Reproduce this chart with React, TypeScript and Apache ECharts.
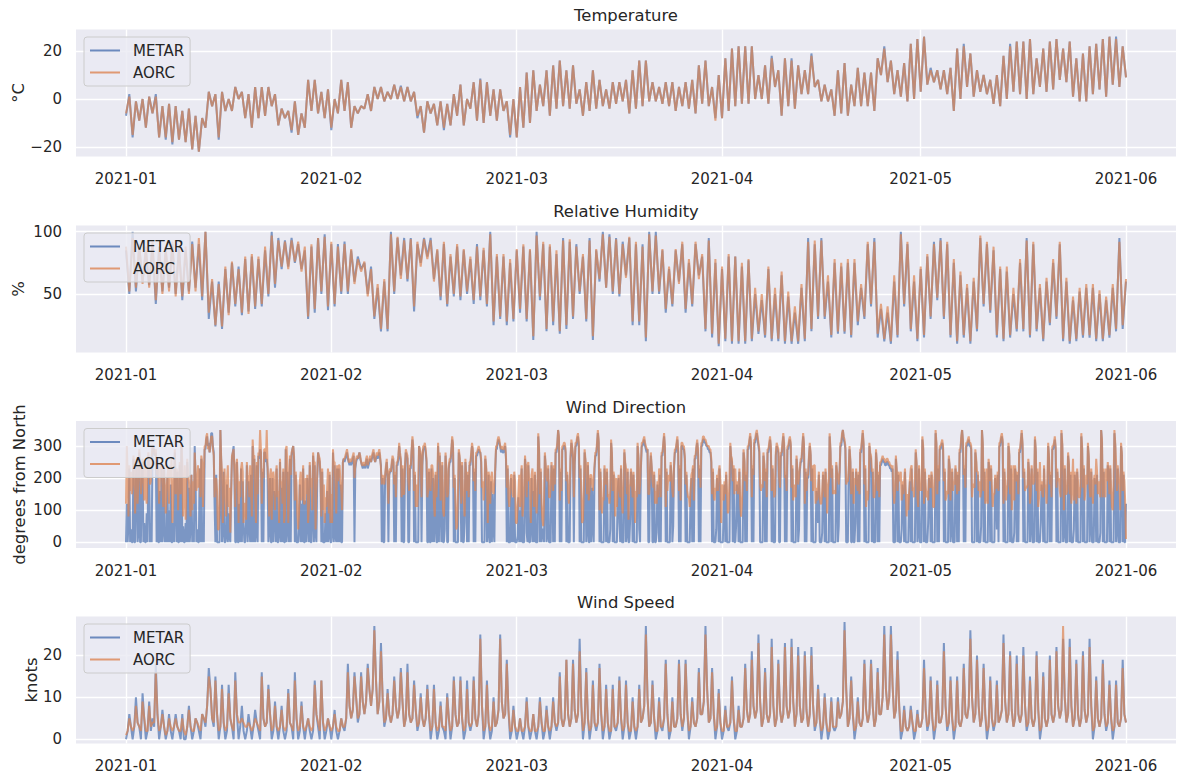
import React, { useEffect, useRef } from "react";
import * as echarts from "echarts";

const FONT = "'DejaVu Sans', 'Liberation Sans', sans-serif";
const TEXT = "#262626";
const BLUE = "#4C72B0";
const ORANGE = "#DD8452";
const PLOT_BG = "#EAEAF2";

const START = Date.UTC(2021, 0, 1);
const HOUR = 3600000;
const DAY = 24 * HOUR;
const SPAN_DAYS = 151;
const PAD_DAYS = 7.55;

const MONTH_LABELS = ["2021-01", "2021-02", "2021-03", "2021-04", "2021-05", "2021-06"];
const MONTH_TICKS = MONTH_LABELS.map((m) => Date.UTC(+m.slice(0, 4), +m.slice(5) - 1, 1));

const TITLES = ["Temperature", "Relative Humidity", "Wind Direction", "Wind Speed"];
const UNITS = ["°C", "%", "degrees from North", "knots"];
const SERIES_NAMES = ["METAR", "AORC"];
const Y_MIN = [-24, 3, -18, -1];
const Y_MAX = [29, 105, 378, 29.3];
const Y_STEP = [20, 50, 100, 10];

// Temperature (°C), 12-hourly samples from 2021-01-01 00:00
const TEMP_METAR = [
  -7, 2, -16, -1, -9, 0, -12, 1, -6, 2, -16, -3, -17, -2, -19, -3, -17, -5, -18, -4,
  -21, -7, -22, -8, -12, 3, -3, 2, -17, 3, -5, 0, -5, 5, 0, 3, -8, 2, -12, 5,
  -8, 5, -7, 5, -3, 2, -11, -4, -8, -5, -14, -1, -15, -6, -12, 8, -5, 8, -6, 3,
  -8, 4, -13, 0, -6, 8, -5, 7, -12, -3, -6, -3, -4, 2, -5, 5, 0, 5, -1, 3,
  0, 6, 0, 5.5, -1, 5, -1, 3, -8, -3, -14, -1, -6, -2, -11, -1, -13, -2, -11, 2,
  -7, 6, -11, 0, -4, 7, -9, 8.5, -10, 7, -7, 4, -9, 4, -5, -1, -16, 0, -16, 5,
  -12, 11, -10, 12, -5, 6, -3, 12, -7, 14, -4, 16, -3, 12, -4, 14, -2, 4, -7, 7,
  -5, 12, -4, 8, -3, 4, -4, 7, -2, 7, -1, 8, -6, 12, -4, 16, -3, 16, -1, 7,
  -1, 5, -2, 7, -3, 7, -5, 5, -3, 7, -4, 8, -6, 14, -2, 16, -3, 5, -8, 10,
  -8, 17, -5, 21, -3, 22, -2, 22, -2, 22, 0, 10, 0, 14, -2, 18, 5, 12, -7, 17,
  -3, 17, -4, 14, 2, 12, 2, 19, 5, 8, -1, 6, -1, 4, -7, 12, -6, 15, -7, 6,
  -3, 13, -3, 11, -3, 11, -5, 17, 10, 22, 7, 16, 2, 12, 1, 15, -1, 23, 0, 25,
  3, 26, 6, 13, 7, 12, 4, 12, 2, 13, -5, 21, 0, 23, 5, 19, 1, 12, 3, 10,
  2, 8, -2, 10, -3, 18, 0, 23, 3, 24, 2, 24, 0, 25, 2, 17, 5, 21, 3, 24,
  4, 25, 8, 21, 7, 24, 1, 17, -1, 19, -1, 22, 2, 23, 4, 25, 1, 26, 6, 26,
  5, 22, 9,
];
const TEMP_AORC = [
  -6, 1, -15, -1, -9, 0, -12, 1, -6, 1, -16, -3, -16, -2, -18, -3, -17, -5, -18, -4,
  -21, -7, -22, -8, -12, 3, -3, 2, -16, 3, -5, 0, -5, 5, 0, 3, -8, 2, -12, 5,
  -8, 5, -7, 5, -3, 2, -11, -4, -8, -5, -13, -1, -15, -6, -12, 8, -5, 8, -6, 3,
  -8, 4, -12, 0, -6, 8, -5, 7, -12, -3, -6, -3, -4, 2, -5, 5, 0, 5, -1, 3,
  0, 6, 0, 5, -1, 5, -1, 3, -7, -3, -14, -1, -6, -2, -11, -1, -12, -2, -11, 2,
  -7, 6, -11, 0, -4, 7, -9, 8, -10, 7, -7, 4, -9, 4, -5, -1, -15, 0, -16, 5,
  -12, 11, -10, 12, -5, 6, -3, 12, -7, 14, -4, 16, -3, 12, -4, 14, -2, 4, -7, 7,
  -5, 12, -4, 8, -3, 4, -4, 7, -2, 7, -1, 8, -6, 12, -4, 16, -3, 16, -1, 7,
  -1, 5, -2, 7, -3, 7, -5, 5, -3, 7, -4, 8, -6, 14, -2, 16, -3, 5, -9, 10,
  -8, 17, -5, 21, -3, 22, -2, 22, -2, 22, 0, 10, 0, 14, -2, 17, 5, 12, -7, 17,
  -3, 16, -4, 14, 2, 12, 2, 18, 5, 8, -1, 6, -1, 4, -7, 12, -6, 15, -7, 6,
  -3, 13, -3, 11, -3, 11, -5, 17, 10, 21, 7, 16, 2, 12, 1, 15, -1, 23, 0, 25,
  3, 26, 6, 12, 7, 12, 4, 12, 2, 13, -5, 21, 0, 22, 5, 19, 1, 12, 3, 10,
  2, 8, -2, 10, -3, 18, 0, 22, 3, 24, 2, 24, 0, 25, 2, 17, 5, 21, 3, 24,
  4, 25, 8, 21, 7, 24, 1, 17, -1, 19, -1, 22, 2, 23, 4, 25, 1, 26, 6, 25,
  5, 22, 9,
];

// Relative humidity (%), 12-hourly samples
const RH_METAR = [
  85, 50, 100, 52, 88, 60, 85, 57, 90, 42, 88, 52, 85, 55, 90, 50, 88, 45, 85, 52,
  92, 55, 90, 45, 100, 30, 60, 24, 60, 22, 70, 35, 75, 40, 72, 33, 78, 36, 80, 38,
  78, 40, 85, 48, 100, 55, 95, 70, 93, 72, 95, 75, 90, 70, 85, 30, 88, 35, 95, 50,
  98, 37, 90, 40, 90, 50, 92, 50, 85, 60, 80, 70, 75, 50, 72, 30, 55, 20, 60, 20,
  100, 50, 95, 65, 95, 60, 95, 36, 90, 75, 95, 80, 95, 62, 85, 45, 90, 40, 80, 48,
  88, 45, 85, 50, 78, 42, 90, 45, 85, 40, 100, 25, 80, 30, 80, 25, 75, 28, 85, 35,
  88, 28, 85, 13, 100, 45, 90, 20, 88, 25, 82, 18, 95, 22, 92, 30, 90, 50, 80, 28,
  95, 13, 85, 60, 100, 55, 98, 50, 95, 48, 92, 65, 95, 25, 90, 25, 90, 12, 100, 50,
  100, 50, 85, 35, 70, 40, 85, 60, 90, 35, 75, 40, 90, 65, 80, 20, 95, 15, 75, 8,
  70, 12, 80, 10, 80, 10, 72, 10, 77, 12, 50, 18, 45, 15, 70, 12, 50, 12, 65, 10,
  48, 10, 35, 10, 55, 12, 95, 20, 90, 30, 95, 30, 60, 15, 75, 18, 72, 18, 75, 15,
  75, 25, 55, 30, 90, 40, 95, 15, 38, 12, 35, 10, 60, 15, 100, 40, 90, 20, 60, 12,
  70, 15, 80, 30, 92, 45, 95, 30, 90, 15, 75, 10, 65, 15, 55, 10, 60, 20, 95, 40,
  90, 35, 85, 15, 70, 12, 68, 15, 50, 20, 75, 20, 95, 15, 90, 20, 55, 12, 60, 25,
  75, 30, 90, 12, 60, 10, 45, 12, 52, 15, 55, 15, 55, 12, 50, 12, 45, 15, 55, 20,
  95, 22, 60,
];
const RH_AORC = [
  88, 52, 95, 55, 90, 58, 88, 55, 92, 45, 85, 50, 88, 52, 92, 48, 85, 48, 88, 50,
  90, 52, 95, 48, 100, 35, 62, 25, 58, 24, 72, 33, 76, 42, 70, 35, 80, 34, 82, 40,
  80, 42, 88, 50, 97, 58, 93, 72, 92, 70, 93, 76, 92, 68, 88, 32, 90, 38, 95, 52,
  96, 40, 92, 42, 88, 52, 90, 52, 86, 58, 78, 68, 76, 48, 70, 32, 58, 22, 62, 22,
  98, 52, 96, 62, 93, 62, 94, 40, 92, 72, 94, 78, 93, 60, 86, 48, 92, 42, 82, 50,
  90, 48, 86, 52, 80, 45, 88, 48, 87, 42, 98, 28, 82, 32, 82, 28, 78, 30, 86, 38,
  90, 30, 86, 16, 97, 48, 92, 22, 90, 28, 85, 20, 93, 25, 94, 32, 88, 52, 82, 30,
  93, 16, 86, 62, 98, 55, 96, 52, 94, 50, 90, 63, 96, 28, 92, 28, 88, 15, 98, 52,
  97, 52, 86, 38, 72, 42, 86, 58, 92, 38, 78, 42, 92, 62, 82, 22, 93, 18, 78, 10,
  72, 14, 82, 12, 80, 12, 75, 12, 78, 14, 55, 20, 50, 17, 72, 14, 55, 14, 68, 12,
  52, 12, 40, 12, 58, 14, 92, 22, 93, 32, 93, 32, 65, 17, 78, 20, 75, 20, 78, 17,
  78, 28, 58, 32, 92, 42, 92, 18, 42, 14, 40, 12, 65, 17, 98, 42, 92, 22, 65, 14,
  72, 17, 82, 32, 90, 47, 93, 32, 92, 17, 78, 12, 68, 17, 58, 12, 63, 22, 97, 42,
  92, 37, 88, 17, 72, 14, 72, 17, 55, 22, 78, 22, 93, 17, 92, 22, 58, 14, 63, 27,
  78, 32, 92, 14, 63, 12, 48, 14, 55, 17, 58, 17, 58, 14, 53, 14, 48, 17, 58, 22,
  92, 25, 62,
];

// Wind direction (degrees from North), 3-hourly samples (8 per day, one row per two days)
const WDIR_METAR = [
  0, 120, 0, 60, 230, 0, 40, 0, 0, 260, 0, 0, 200, 250, 0, 30,
  280, 0, 0, 200, 250, 0, 60, 0, 0, 90, 0, 270, 230, 0, 60, 0,
  290, 300, 280, 270, 280, 0, 250, 0, 0, 160, 0, 250, 0, 40, 230, 0,
  30, 0, 200, 0, 100, 0, 180, 0, 0, 60, 0, 280, 130, 0, 220, 0,
  0, 240, 0, 320, 0, 50, 0, 0, 60, 0, 250, 0, 170, 0, 50, 210,
  0, 40, 0, 300, 200, 0, 40, 0, 0, 230, 0, 260, 0, 30, 0, 290,
  290, 320, 330, 300, 310, 280, 300, 340, 340, 300, 280, 120, 0, 210, 0, 0,
  0, 0, 350, 250, 0, 40, 220, 0, 0, 20, 180, 0, 90, 20, 0, 160,
  260, 280, 300, 210, 0, 0, 250, 0, 0, 120, 0, 230, 0, 190, 60, 0,
  0, 60, 240, 0, 190, 50, 0, 210, 0, 300, 0, 260, 0, 30, 240, 0,
  270, 260, 290, 280, 0, 220, 0, 280, 280, 250, 260, 230, 0, 40, 200, 0,
  0, 200, 0, 160, 90, 0, 230, 0, 0, 30, 250, 0, 170, 0, 220, 0,
  0, 290, 0, 220, 40, 0, 260, 0, 270, 290, 300, 260, 0, 210, 0, 0,
  0, 50, 180, 0, 120, 0, 230, 0, 0, 130, 0, 200, 60, 0, 240, 0,
  0, 80, 270, 0, 240, 30, 0, 200, 280, 260, 250, 200, 0, 220, 0, 0,
  0, 90, 0, 160, 0, 20, 210, 0, 0, 30, 280, 0, 240, 20, 0, 230,
  0, 230, 0, 180, 0, 0, 250, 260, 250, 260, 270, 280, 260, 250, 240, 250,
  240, 250, 260, 270, 0, 230, 250, 260, 260, 270, 280, 260, 250, 240, 230, 240,
  240, 230, 250, 260, 230, 240, 250, 260, 250, 260, 270, 280, 260, 250, 260, 270,
  260, 270, 280, 260, 240, 0, 200, 0, 0, 200, 230, 250, 200, 0, 210, 220,
  220, 240, 260, 250, 0, 210, 0, 240, 240, 260, 300, 270, 250, 0, 230, 0,
  0, 230, 280, 270, 260, 0, 0, 230, 230, 280, 320, 290, 0, 210, 0, 0,
  0, 0, 300, 280, 270, 0, 240, 290, 290, 300, 280, 250, 0, 0, 220, 0,
  0, 230, 0, 200, 0, 60, 210, 0, 0, 300, 0, 270, 120, 0, 240, 0,
  0, 40, 270, 220, 0, 0, 230, 250, 250, 280, 320, 300, 0, 200, 0, 0,
  0, 0, 280, 260, 220, 0, 240, 0, 0, 60, 250, 200, 0, 210, 0, 240,
  240, 270, 300, 280, 0, 220, 0, 270, 270, 280, 290, 280, 280, 250, 0, 0,
  0, 0, 260, 230, 0, 30, 210, 0, 0, 190, 0, 150, 40, 0, 220, 290,
  290, 310, 320, 310, 300, 280, 290, 280, 280, 290, 300, 260, 0, 230, 0, 0,
  0, 200, 0, 140, 0, 210, 0, 0, 0, 20, 140, 0, 100, 0, 230, 0,
  0, 0, 260, 220, 30, 0, 240, 0, 0, 50, 200, 0, 160, 0, 210, 0,
  0, 0, 330, 280, 0, 220, 0, 40, 40, 0, 270, 230, 0, 20, 230, 0,
  0, 0, 240, 200, 0, 230, 0, 280, 280, 300, 350, 320, 0, 220, 0, 290,
  290, 300, 300, 280, 0, 210, 0, 0, 0, 260, 310, 290, 260, 0, 240, 300,
  300, 320, 330, 300, 0, 230, 0, 0, 0, 0, 280, 250, 0, 40, 240, 0,
  0, 200, 0, 170, 50, 0, 230, 270, 270, 300, 340, 310, 0, 220, 0, 0,
  0, 0, 230, 180, 0, 220, 0, 0, 0, 40, 310, 270, 0, 210, 0, 0,
  0, 0, 160, 200, 60, 0, 230, 0, 0, 0, 280, 240, 0, 30, 220, 0,
  0, 70, 220, 180, 0, 210, 0, 0, 0, 0, 300, 260, 40, 0, 230, 300,
  300, 310, 320, 300, 290, 280, 290, 0, 0, 220, 270, 230, 0, 0, 210, 0,
  0, 30, 180, 130, 0, 210, 0, 270, 270, 300, 330, 290, 0, 220, 0, 0,
  0, 0, 240, 200, 0, 50, 230, 280, 280, 300, 320, 280, 0, 230, 0, 300,
  300, 290, 290, 260, 0, 210, 0, 0, 0, 0, 150, 200, 0, 230, 0, 260,
  260, 290, 310, 280, 0, 230, 0, 300, 300, 320, 320, 310, 310, 300, 300, 290,
  290, 280, 280, 250, 0, 220, 0, 0, 0, 40, 200, 150, 0, 230, 0, 0,
  0, 0, 120, 180, 0, 210, 0, 0, 0, 0, 300, 260, 250, 0, 230, 0,
  0, 50, 180, 140, 0, 220, 0, 0, 0, 0, 280, 250, 0, 210, 0, 290,
  290, 310, 330, 300, 0, 230, 0, 310, 310, 330, 340, 320, 300, 280, 0, 0,
  0, 0, 270, 240, 0, 220, 0, 280, 280, 300, 320, 290, 0, 230, 0, 0,
  0, 270, 300, 290, 280, 0, 0, 270, 270, 300, 330, 300, 0, 210, 0, 290,
  290, 310, 320, 300, 0, 230, 0, 0, 0, 0, 260, 220, 0, 40, 220, 250,
  250, 290, 330, 300, 0, 220, 0, 200, 200, 260, 300, 270, 0, 230, 0, 0,
  0, 0, 160, 120, 60, 210, 0, 0, 0, 30, 210, 170, 0, 220, 0, 0,
  0, 0, 330, 280, 0, 230, 0, 0, 0, 0, 240, 210, 0, 50, 210, 300,
  300, 330, 350, 320, 310, 290, 0, 0, 0, 210, 290, 250, 0, 0, 220, 0,
  0, 60, 220, 170, 0, 210, 0, 280, 280, 310, 340, 300, 0, 230, 0, 0,
  0, 0, 300, 270, 260, 0, 220, 0, 0, 0, 280, 240, 0, 210, 0, 240,
  240, 250, 260, 250, 250, 240, 240, 250, 250, 240, 240, 230, 230, 220, 230, 0,
  0, 0, 260, 220, 0, 210, 0, 0, 0, 40, 180, 140, 0, 220, 0, 0,
  0, 0, 140, 190, 0, 230, 0, 0, 0, 0, 280, 240, 0, 30, 230, 0,
  0, 0, 320, 290, 0, 220, 0, 0, 0, 60, 200, 170, 0, 210, 0, 0,
  0, 0, 340, 300, 0, 230, 0, 290, 290, 300, 310, 290, 0, 220, 0, 0,
  0, 0, 260, 230, 0, 40, 220, 0, 0, 0, 230, 190, 0, 210, 0, 280,
  280, 320, 350, 310, 0, 230, 0, 300, 300, 310, 320, 300, 300, 290, 0, 0,
  0, 0, 280, 250, 0, 210, 0, 0, 0, 50, 350, 300, 0, 220, 0, 0,
  0, 0, 250, 220, 0, 230, 0, 0, 0, 0, 200, 160, 40, 210, 0, 300,
  300, 320, 330, 310, 0, 220, 0, 0, 0, 0, 300, 270, 0, 230, 0, 0,
  0, 30, 230, 200, 0, 210, 0, 280, 280, 310, 340, 300, 0, 220, 0, 0,
  0, 0, 250, 210, 0, 50, 230, 0, 0, 0, 320, 280, 0, 220, 0, 0,
  0, 60, 180, 140, 0, 230, 0, 0, 0, 0, 300, 260, 0, 210, 0, 290,
  290, 300, 320, 290, 0, 220, 0, 0, 0, 0, 340, 300, 0, 30, 230, 0,
  0, 0, 270, 240, 0, 210, 0, 0, 0, 40, 210, 180, 0, 220, 0, 0,
  0, 0, 330, 290, 0, 230, 0, 0, 0, 0, 300, 260, 0, 50, 220, 0,
  0, 0, 200, 170, 0, 210, 0, 0, 0, 30, 350, 310, 0, 220, 0, 0,
  0, 0, 240, 200, 0, 230, 0, 0, 0, 0, 340, 300, 0, 40, 230, 0,
  0, 0, 300, 270, 0, 210, 0, 0, 120,
];
const WDIR_AORC = [
  120, 300, 210, 80, 240, 160, 220, 150, 180, 270, 230, 90, 220, 260, 120, 200,
  290, 230, 150, 210, 260, 190, 130, 250, 150, 120, 240, 280, 240, 180, 190, 270,
  300, 290, 280, 270, 290, 210, 260, 220, 120, 200, 250, 240, 170, 110, 240, 170,
  90, 160, 210, 230, 120, 240, 200, 260, 60, 120, 210, 290, 150, 230, 220, 100,
  200, 250, 150, 310, 250, 80, 160, 240, 70, 180, 260, 220, 190, 150, 80, 210,
  100, 190, 120, 280, 220, 160, 180, 240, 170, 230, 140, 270, 250, 110, 200, 300,
  300, 330, 340, 290, 300, 280, 310, 330, 330, 290, 270, 140, 190, 200, 160, 40,
  40, 120, 350, 260, 220, 60, 170, 230, 150, 80, 190, 240, 110, 170, 30, 150,
  270, 280, 290, 220, 110, 240, 260, 200, 60, 190, 140, 230, 250, 220, 60, 120,
  120, 70, 250, 210, 200, 140, 240, 180, 80, 320, 270, 270, 140, 60, 250, 150,
  280, 270, 350, 290, 120, 230, 200, 290, 290, 260, 350, 240, 180, 80, 210, 230,
  70, 210, 220, 170, 100, 210, 240, 140, 160, 60, 260, 180, 190, 120, 230, 60,
  90, 290, 300, 230, 60, 150, 270, 210, 280, 290, 300, 270, 130, 220, 180, 90,
  40, 90, 190, 220, 130, 170, 240, 120, 120, 200, 150, 210, 60, 110, 250, 170,
  200, 100, 280, 250, 250, 40, 160, 210, 280, 270, 260, 210, 80, 230, 100, 180,
  60, 140, 110, 170, 230, 90, 220, 60, 150, 60, 290, 250, 250, 180, 90, 240,
  190, 240, 240, 190, 160, 100, 250, 260, 260, 270, 280, 290, 270, 250, 250, 260,
  250, 260, 270, 280, 200, 240, 260, 270, 260, 270, 280, 270, 250, 240, 240, 250,
  240, 240, 260, 270, 240, 250, 260, 270, 250, 270, 280, 290, 260, 250, 270, 280,
  270, 280, 290, 270, 230, 180, 210, 200, 180, 210, 240, 260, 200, 120, 220, 230,
  220, 250, 270, 260, 180, 220, 140, 250, 250, 270, 310, 280, 260, 140, 240, 150,
  150, 240, 290, 280, 270, 190, 160, 240, 240, 290, 330, 300, 160, 220, 110, 180,
  110, 180, 300, 290, 280, 140, 250, 300, 300, 310, 290, 260, 140, 160, 230, 190,
  160, 240, 240, 210, 120, 80, 220, 140, 200, 310, 250, 280, 130, 180, 250, 100,
  80, 160, 280, 230, 140, 150, 240, 260, 260, 290, 330, 310, 170, 210, 120, 40,
  50, 150, 290, 270, 230, 120, 250, 160, 140, 80, 260, 210, 160, 220, 140, 250,
  250, 280, 310, 290, 190, 230, 160, 280, 280, 290, 300, 290, 280, 260, 170, 190,
  130, 170, 270, 240, 200, 60, 220, 200, 120, 200, 220, 160, 150, 180, 230, 300,
  300, 320, 330, 320, 300, 290, 300, 290, 290, 300, 310, 270, 170, 240, 140, 110,
  160, 210, 210, 150, 140, 220, 190, 60, 60, 110, 150, 210, 110, 200, 240, 80,
  110, 180, 270, 230, 140, 240, 250, 190, 200, 60, 210, 230, 170, 110, 220, 140,
  90, 150, 340, 290, 150, 230, 120, 70, 50, 130, 280, 240, 210, 190, 240, 140,
  140, 170, 250, 210, 160, 240, 180, 290, 290, 310, 350, 330, 130, 230, 160, 300,
  300, 310, 310, 290, 190, 220, 150, 120, 180, 270, 320, 300, 270, 140, 250, 310,
  310, 330, 340, 310, 200, 240, 150, 60, 70, 160, 290, 260, 220, 150, 250, 130,
  160, 210, 210, 180, 160, 200, 240, 280, 280, 310, 350, 320, 100, 230, 170, 90,
  140, 130, 240, 190, 180, 230, 140, 150, 120, 160, 320, 280, 160, 220, 200, 80,
  200, 110, 170, 210, 170, 140, 240, 120, 90, 170, 290, 250, 230, 150, 230, 70,
  170, 180, 230, 190, 140, 220, 160, 60, 160, 140, 310, 270, 150, 180, 240, 310,
  310, 320, 330, 310, 300, 290, 290, 150, 150, 230, 280, 240, 190, 170, 220, 120,
  160, 120, 190, 140, 230, 220, 140, 280, 280, 310, 340, 300, 110, 230, 160, 200,
  210, 190, 250, 210, 160, 140, 240, 290, 290, 310, 330, 290, 160, 240, 130, 310,
  310, 300, 300, 270, 180, 220, 160, 140, 140, 110, 160, 210, 220, 240, 130, 270,
  270, 300, 320, 290, 200, 240, 170, 310, 310, 330, 330, 320, 320, 310, 300, 300,
  300, 290, 290, 260, 150, 230, 140, 130, 170, 160, 210, 160, 220, 240, 190, 60,
  180, 160, 130, 190, 150, 220, 160, 90, 100, 200, 310, 270, 260, 190, 240, 150,
  230, 160, 190, 150, 160, 230, 120, 80, 120, 190, 290, 260, 190, 220, 160, 300,
  300, 320, 340, 310, 140, 240, 210, 320, 320, 340, 350, 330, 310, 290, 180, 160,
  180, 170, 280, 250, 190, 230, 140, 290, 290, 310, 330, 300, 160, 240, 190, 140,
  150, 280, 310, 300, 290, 200, 170, 280, 280, 310, 340, 310, 200, 220, 160, 300,
  300, 320, 330, 310, 170, 240, 130, 180, 150, 140, 270, 230, 180, 200, 230, 260,
  260, 300, 340, 310, 120, 230, 160, 210, 210, 270, 310, 280, 190, 240, 160, 240,
  240, 120, 170, 130, 170, 220, 140, 120, 120, 160, 220, 180, 140, 230, 190, 90,
  170, 190, 340, 290, 200, 240, 150, 160, 160, 150, 250, 220, 200, 180, 220, 310,
  310, 340, 350, 330, 320, 300, 180, 190, 190, 220, 300, 260, 150, 160, 230, 120,
  200, 180, 230, 180, 160, 220, 150, 290, 290, 320, 350, 310, 180, 240, 110, 160,
  130, 160, 310, 280, 270, 220, 230, 140, 140, 170, 290, 250, 160, 220, 140, 250,
  250, 260, 270, 260, 260, 250, 250, 260, 260, 250, 250, 240, 240, 230, 240, 160,
  120, 160, 270, 230, 160, 220, 190, 200, 220, 130, 190, 150, 190, 230, 160, 80,
  150, 100, 150, 200, 230, 240, 160, 170, 140, 200, 290, 250, 140, 110, 240, 160,
  180, 160, 330, 300, 120, 230, 180, 140, 160, 130, 210, 180, 170, 220, 200, 110,
  110, 190, 350, 310, 150, 240, 190, 300, 300, 310, 320, 300, 190, 230, 130, 140,
  160, 150, 270, 240, 130, 200, 230, 160, 190, 180, 240, 200, 150, 220, 160, 290,
  290, 330, 350, 320, 210, 240, 170, 310, 310, 320, 330, 310, 310, 300, 140, 180,
  180, 170, 290, 260, 220, 220, 160, 190, 140, 160, 350, 310, 160, 230, 120, 140,
  230, 120, 260, 230, 190, 240, 170, 110, 150, 150, 210, 170, 170, 220, 160, 310,
  310, 330, 340, 320, 120, 230, 190, 130, 160, 180, 310, 280, 150, 240, 100, 160,
  240, 130, 240, 210, 190, 220, 150, 290, 290, 320, 350, 310, 200, 230, 160, 170,
  170, 180, 260, 220, 120, 150, 240, 190, 180, 190, 330, 290, 160, 230, 110, 140,
  250, 160, 190, 150, 140, 240, 170, 180, 120, 200, 310, 270, 180, 220, 140, 300,
  300, 310, 330, 300, 170, 230, 190, 200, 160, 140, 350, 310, 220, 100, 240, 150,
  150, 160, 280, 250, 150, 220, 120, 190, 260, 130, 220, 190, 120, 230, 190, 140,
  140, 170, 340, 300, 170, 240, 130, 160, 210, 180, 310, 270, 170, 140, 230, 180,
  120, 190, 210, 180, 260, 220, 150, 190, 160, 140, 350, 320, 140, 230, 180, 140,
  230, 190, 250, 210, 150, 240, 170, 110, 100, 180, 350, 310, 250, 160, 240, 200,
  180, 100, 310, 280, 160, 220, 190, 130, 10,
];

// Wind speed (knots), 6-hourly samples (4 per day)
const WSPD_METAR = [
  0, 2, 6, 3, 0, 3, 10, 4, 3, 0, 11, 5, 0, 2, 9, 2, 5, 3, 18, 6, 0, 3, 7, 3, 0, 2, 6, 2, 0, 3, 6, 3, 2, 0, 6, 0, 0, 3, 8, 3,
  0, 2, 5, 4, 2, 0, 6, 5, 3, 8, 17, 12, 5, 3, 15, 6, 0, 3, 13, 4, 0, 2, 13, 5, 3, 0, 16, 6, 0, 3, 8, 2, 0, 2, 6, 3, 0, 3, 7, 4,
  2, 0, 16, 5, 3, 4, 13, 6, 0, 2, 9, 3, 0, 3, 8, 2, 0, 2, 12, 4, 3, 0, 16, 5, 0, 2, 9, 3, 0, 3, 5, 2, 0, 2, 14, 6, 3, 0, 14, 4,
  0, 2, 5, 3, 0, 3, 7, 2, 0, 2, 5, 3, 2, 5, 18, 8, 5, 7, 16, 10, 4, 6, 16, 9, 6, 9, 18, 12, 8, 12, 27, 14, 6, 9, 23, 10, 3, 5, 12, 6,
  4, 6, 15, 8, 5, 7, 17, 9, 3, 5, 18, 6, 4, 5, 14, 7, 2, 4, 11, 5, 3, 5, 13, 6, 0, 3, 13, 4, 0, 2, 9, 3, 2, 0, 11, 5, 0, 3, 15, 6,
  3, 4, 15, 5, 0, 2, 14, 4, 2, 4, 15, 5, 3, 6, 25, 8, 0, 3, 14, 4, 0, 2, 10, 3, 4, 7, 25, 9, 5, 6, 19, 7, 0, 2, 8, 3, 0, 2, 5, 2,
  0, 3, 10, 3, 0, 2, 6, 2, 0, 3, 10, 4, 0, 2, 8, 3, 0, 3, 10, 4, 2, 4, 16, 5, 3, 5, 19, 6, 3, 5, 19, 7, 4, 6, 24, 8, 0, 4, 17, 5,
  0, 3, 14, 4, 2, 4, 18, 6, 0, 3, 13, 4, 0, 2, 13, 3, 2, 4, 15, 5, 0, 3, 14, 4, 0, 2, 10, 3, 0, 3, 13, 4, 5, 8, 27, 10, 3, 4, 14, 5,
  0, 2, 10, 3, 2, 5, 19, 6, 0, 2, 10, 3, 3, 5, 19, 6, 2, 5, 19, 7, 0, 3, 10, 4, 3, 5, 17, 6, 6, 9, 27, 12, 4, 5, 17, 6, 0, 3, 12, 4,
  0, 2, 8, 3, 2, 4, 15, 5, 0, 2, 8, 3, 3, 5, 18, 7, 4, 6, 21, 8, 5, 7, 25, 9, 3, 5, 17, 6, 4, 6, 24, 8, 3, 5, 19, 7, 4, 6, 23, 8,
  5, 7, 24, 9, 3, 6, 22, 8, 4, 5, 21, 7, 3, 6, 22, 8, 2, 4, 13, 5, 0, 3, 11, 4, 0, 2, 10, 3, 2, 3, 10, 5, 6, 9, 28, 12, 3, 5, 15, 6,
  0, 3, 10, 4, 3, 5, 19, 7, 4, 6, 19, 8, 3, 5, 17, 6, 6, 10, 27, 12, 7, 10, 27, 13, 5, 7, 21, 8, 0, 2, 8, 3, 2, 3, 8, 4, 0, 2, 7, 3,
  3, 5, 19, 7, 2, 4, 15, 5, 0, 3, 14, 4, 4, 6, 23, 8, 2, 4, 15, 5, 0, 3, 15, 4, 3, 5, 18, 6, 5, 8, 26, 10, 4, 6, 20, 8, 3, 5, 18, 6,
  0, 3, 15, 5, 2, 4, 14, 4, 5, 7, 25, 9, 4, 6, 21, 7, 3, 5, 20, 6, 4, 6, 22, 8, 2, 4, 15, 5, 3, 5, 21, 7, 0, 3, 16, 5, 3, 5, 20, 6,
  4, 6, 22, 8, 5, 7, 24, 10, 4, 6, 24, 8, 3, 5, 19, 6, 3, 5, 21, 7, 4, 6, 24, 8, 0, 3, 15, 5, 3, 5, 19, 6, 2, 4, 14, 5, 0, 3, 14, 4,
  3, 5, 19, 6, 4,
];
const WSPD_AORC = [
  1, 2, 5, 3, 2, 3, 8, 4, 3, 2, 9, 5, 2, 2, 8, 3, 4, 4, 16, 6, 2, 3, 6, 3, 1, 2, 5, 3, 2, 3, 5, 3, 2, 2, 5, 2, 1, 3, 7, 3,
  2, 2, 5, 4, 3, 2, 6, 5, 4, 8, 15, 12, 5, 4, 14, 6, 2, 3, 12, 4, 2, 3, 11, 5, 3, 2, 14, 6, 4, 4, 5, 4, 3, 3, 4, 3, 2, 3, 5, 4,
  3, 2, 15, 5, 3, 4, 12, 6, 2, 3, 8, 3, 2, 3, 7, 3, 2, 3, 11, 4, 3, 2, 14, 5, 2, 3, 8, 3, 2, 3, 5, 3, 2, 3, 13, 6, 4, 2, 14, 4,
  2, 3, 5, 3, 2, 3, 6, 3, 2, 2, 5, 3, 3, 5, 16, 8, 5, 7, 15, 10, 5, 6, 15, 9, 6, 9, 17, 12, 8, 12, 26, 14, 6, 9, 21, 10, 4, 5, 11, 6,
  4, 6, 14, 8, 5, 7, 16, 9, 3, 5, 16, 6, 4, 5, 13, 7, 3, 4, 10, 5, 3, 5, 12, 6, 2, 3, 12, 4, 2, 3, 8, 3, 3, 2, 10, 5, 2, 3, 14, 6,
  3, 4, 14, 5, 2, 3, 12, 4, 3, 4, 14, 5, 3, 6, 24, 8, 2, 3, 13, 4, 2, 3, 9, 3, 4, 7, 24, 9, 5, 6, 18, 7, 2, 2, 7, 3, 2, 2, 5, 2,
  2, 3, 9, 3, 2, 2, 6, 2, 2, 3, 9, 4, 2, 2, 7, 3, 2, 3, 9, 4, 3, 4, 15, 5, 3, 5, 19, 6, 3, 5, 18, 7, 4, 6, 21, 8, 2, 4, 16, 5,
  2, 3, 13, 4, 3, 4, 17, 6, 2, 3, 12, 4, 2, 2, 12, 3, 3, 4, 14, 5, 2, 3, 13, 4, 2, 2, 9, 3, 2, 3, 12, 4, 5, 8, 25, 10, 3, 4, 13, 5,
  2, 2, 9, 3, 3, 5, 18, 6, 2, 2, 9, 3, 3, 5, 18, 6, 3, 5, 18, 7, 2, 3, 9, 4, 3, 5, 16, 6, 6, 9, 25, 12, 4, 5, 16, 6, 2, 3, 11, 4,
  2, 2, 7, 3, 3, 4, 14, 5, 2, 2, 7, 3, 3, 5, 17, 7, 4, 6, 19, 8, 5, 7, 23, 9, 3, 5, 16, 6, 4, 6, 22, 8, 3, 5, 18, 7, 4, 6, 22, 8,
  5, 7, 22, 9, 3, 6, 20, 8, 4, 5, 20, 7, 3, 6, 20, 8, 3, 4, 12, 5, 2, 3, 10, 4, 2, 2, 9, 3, 3, 3, 9, 5, 6, 9, 26, 12, 3, 5, 14, 6,
  2, 3, 9, 4, 3, 5, 18, 7, 4, 6, 18, 8, 3, 5, 16, 6, 6, 10, 25, 12, 7, 10, 25, 13, 5, 7, 19, 8, 2, 2, 7, 3, 2, 3, 7, 4, 2, 2, 6, 3,
  3, 5, 17, 7, 3, 4, 14, 5, 2, 3, 13, 4, 4, 6, 21, 8, 3, 4, 14, 5, 2, 3, 14, 4, 3, 5, 17, 6, 5, 8, 24, 10, 4, 6, 19, 8, 3, 5, 17, 6,
  2, 3, 14, 5, 3, 4, 13, 4, 5, 7, 23, 9, 4, 6, 20, 7, 3, 5, 18, 6, 4, 6, 20, 8, 3, 4, 14, 5, 3, 5, 20, 7, 2, 3, 15, 5, 3, 5, 19, 6,
  4, 6, 21, 8, 5, 7, 27, 10, 4, 6, 22, 8, 3, 5, 18, 6, 3, 5, 20, 7, 4, 6, 22, 8, 2, 3, 14, 5, 3, 5, 18, 6, 3, 4, 13, 5, 2, 3, 13, 4,
  3, 5, 17, 6, 4,
];

const PANELS = [
  { metar: TEMP_METAR, aorc: TEMP_AORC, stepHours: 12 },
  { metar: RH_METAR, aorc: RH_AORC, stepHours: 12 },
  { metar: WDIR_METAR, aorc: WDIR_AORC, stepHours: 3 },
  { metar: WSPD_METAR, aorc: WSPD_AORC, stepHours: 6 },
];

// layout (pixels)
const GRID_TOPS = [29.5, 225.5, 421, 616.5];
const GRID_H = 127;
const GRID_LEFT = 76;
const GRID_RIGHT = 8;
const NAME_GAPS = [50, 50, 49, 37];

function toPoints(values: number[], stepHours: number) {
  return values.map((v, i) => [START + i * stepHours * HOUR, v]);
}

function fmtNum(v: number) {
  return v < 0 ? "\u2212" + Math.abs(v) : String(v);
}

function monthLabel(v: number) {
  let best = 0;
  for (let i = 1; i < MONTH_TICKS.length; i++) {
    if (Math.abs(MONTH_TICKS[i] - v) < Math.abs(MONTH_TICKS[best] - v)) best = i;
  }
  return MONTH_LABELS[best];
}

export default function App() {
  const ref = useRef<HTMLDivElement | null>(null);

  useEffect(() => {
    if (!ref.current) return;
    const chart = echarts.init(ref.current, null, { renderer: "svg" });
    const centerX = GRID_LEFT + (1184 - GRID_LEFT - GRID_RIGHT) / 2;

    const option: any = {
      animation: false,
      backgroundColor: "#ffffff",
      title: TITLES.map((t, i) => ({
        text: t,
        left: centerX,
        top: GRID_TOPS[i] - 21.7,
        textAlign: "center",
        padding: 0,
        textStyle: { color: TEXT, fontSize: 16.4, fontWeight: "normal", fontFamily: FONT },
      })),
      legend: GRID_TOPS.map((top) => ({
        orient: "vertical",
        left: 84,
        top: top + 7.5,
        selectedMode: false,
        icon: "rect",
        itemWidth: 30,
        itemHeight: 2,
        itemGap: 7,
        padding: [6, 6, 6, 6],
        backgroundColor: "rgba(234,234,242,0.8)",
        borderColor: "#cccccc",
        borderWidth: 1,
        borderRadius: 3,
        textStyle: { color: TEXT, fontSize: 15, fontFamily: FONT, padding: [0, 0, 0, 8] },
        data: [
          { name: SERIES_NAMES[0], itemStyle: { color: BLUE, opacity: 0.8 } },
          { name: SERIES_NAMES[1], itemStyle: { color: ORANGE, opacity: 0.8 } },
        ],
      })),
      grid: GRID_TOPS.map((top) => ({
        left: GRID_LEFT,
        right: GRID_RIGHT,
        top,
        height: GRID_H,
        show: true,
        backgroundColor: PLOT_BG,
        borderWidth: 0,
        containLabel: false,
        outerBoundsMode: "none",
      })),
      xAxis: GRID_TOPS.map((_, i) => ({
        type: "value",
        gridIndex: i,
        min: START - PAD_DAYS * DAY,
        max: START + (SPAN_DAYS + PAD_DAYS) * DAY,
        axisLine: { show: false },
        axisTick: { show: false, customValues: MONTH_TICKS },
        axisLabel: {
          customValues: MONTH_TICKS,
          formatter: (v: number) => monthLabel(v),
          color: TEXT,
          fontSize: 15,
          fontFamily: FONT,
          margin: 15,
        },
        splitLine: { show: true, lineStyle: { color: "#ffffff", width: 1.4 } },
      })),
      yAxis: GRID_TOPS.map((_, i) => ({
        type: "value",
        gridIndex: i,
        min: Y_MIN[i],
        max: Y_MAX[i],
        minInterval: Y_STEP[i],
        maxInterval: Y_STEP[i],
        splitNumber: 3,
        name: UNITS[i],
        nameLocation: "middle",
        nameRotate: 90,
        nameGap: NAME_GAPS[i],
        nameMoveOverlap: false,
        nameTextStyle: { color: TEXT, fontSize: 16.4, fontFamily: FONT },
        axisLine: { show: false },
        axisTick: { show: false },
        axisLabel: {
          color: TEXT,
          fontSize: 15,
          fontFamily: FONT,
          margin: 14,
          showMinLabel: false,
          showMaxLabel: false,
          formatter: (v: number) => fmtNum(v),
        },
        splitLine: {
          show: true,
          showMinLine: false,
          showMaxLine: false,
          lineStyle: { color: "#ffffff", width: 1.4 },
        },
      })),
      series: PANELS.flatMap((p, i) => [
        {
          type: "line",
          name: SERIES_NAMES[0],
          xAxisIndex: i,
          yAxisIndex: i,
          data: toPoints(p.metar, p.stepHours),
          showSymbol: false,
          symbol: "none",
          silent: true,
          itemStyle: { color: BLUE },
          lineStyle: { color: BLUE, width: 2, opacity: 0.7 },
          emphasis: { disabled: true },
        },
        {
          type: "line",
          name: SERIES_NAMES[1],
          xAxisIndex: i,
          yAxisIndex: i,
          data: toPoints(p.aorc, p.stepHours),
          showSymbol: false,
          symbol: "none",
          silent: true,
          itemStyle: { color: ORANGE },
          lineStyle: { color: ORANGE, width: 2, opacity: 0.7 },
          emphasis: { disabled: true },
        },
      ]),
    };

    chart.setOption(option);
    return () => chart.dispose();
  }, []);

  return (
    <div
      ref={ref}
      style={{ position: "absolute", left: 0, top: 0, width: 1184, height: 783 }}
    />
  );
}
